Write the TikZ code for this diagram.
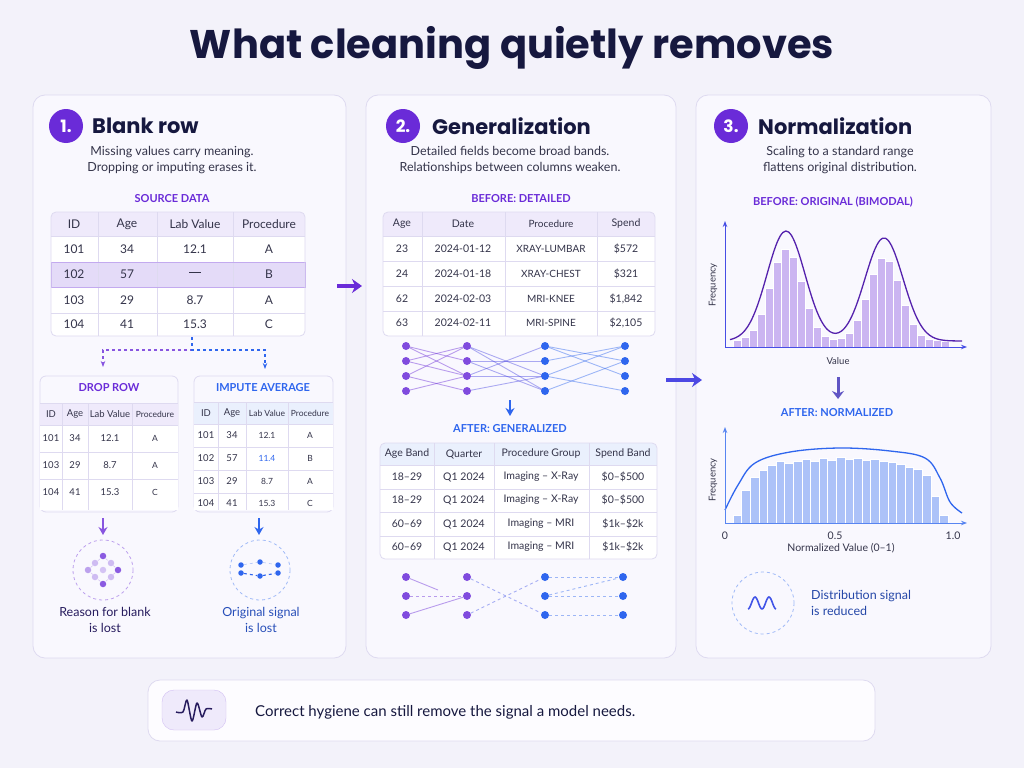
\documentclass[tikz,border=0pt]{standalone}
\usepackage{fontspec}
\setmainfont{Lato}
\newfontfamily\headfont{Poppins}
\usetikzlibrary{arrows.meta}
\definecolor{bg}{HTML}{F3F2FA}
\definecolor{panel}{HTML}{F9F8FE}
\definecolor{edge}{HTML}{DEDAF0}
\definecolor{navy}{HTML}{16183F}
\definecolor{ink}{HTML}{34344A}
\definecolor{purp}{HTML}{6A2BD8}
\definecolor{blu}{HTML}{2F66EE}
\definecolor{hdr}{HTML}{EFEAFB}
\definecolor{hdrb}{HTML}{EAF0FD}
\definecolor{hil}{HTML}{E4DBF8}
\newcommand\blankdash{\rule[0.3em]{12pt}{1.1pt}}
\tikzset{
  paper/.style={fill=panel,draw=edge,line width=0.8pt,rounded corners=12},
  tabframe/.style={draw=edge,line width=0.8pt,rounded corners=5},
  grid/.style={draw=edge,line width=0.6pt},
  cell/.style={inner sep=0pt,font=\fontsize{12}{14}\selectfont,text=ink},
  small/.style={inner sep=0pt,font=\fontsize{9.5}{11}\selectfont,text=ink},
  caption/.style={inner sep=0pt,font=\fontsize{11}{13}\selectfont\bfseries},
  numdot/.style={circle,fill=purp,minimum size=34pt,inner sep=0pt,text=white,font=\headfont\fontsize{17}{17}\selectfont\bfseries},
  heading/.style={anchor=west,inner sep=0pt,font=\headfont\fontsize{21}{24}\selectfont\bfseries,text=navy},
  blurb/.style={align=center,inner sep=0pt,font=\fontsize{12.5}{16}\selectfont,text=ink},
  pdot/.style={circle,fill=purp!85,inner sep=0pt,minimum size=8pt},
  bdot/.style={circle,fill=blu,inner sep=0pt,minimum size=8pt},
  wire/.style={line width=0.9pt,opacity=0.45},
  flow/.style={-{Stealth[length=8pt,width=9pt]},line width=2pt},
}
\begin{document}
\begin{tikzpicture}[x=1pt,y=-1pt]
\useasboundingbox[fill=bg] (0,0) rectangle (1024,768);
\node[inner sep=0pt,font=\headfont\fontsize{40}{44}\selectfont\bfseries,text=navy] (title) at (512,48) {What cleaning quietly removes};

%panels
\draw[paper] (33,95) rectangle (346,658);
\draw[paper] (366,95) rectangle (676,658);
\draw[paper] (696,95) rectangle (991,658);
\draw[paper,fill=white!60!panel] (148,680) rectangle (875,741);

%%%%% panel 1
\node[numdot] (n1) at (66,126) {1.};
\node[heading] (h1) at (92,126) {Blank row};
\node[blurb] (b1) at (172,160) {Missing values carry meaning.\\Dropping or imputing erases it.};
\node[caption,text=purp] (c1) at (172,199) {SOURCE DATA};
\begin{scope}
\clip[rounded corners=5] (51,212) rectangle (305,336);
\fill[hdr] (51,212) rectangle (305,236);
\fill[white] (51,236) rectangle (305,336);
\fill[hil] (51,262) rectangle (305,287);
\end{scope}
\foreach \x in {98,157,233} \draw[grid] (\x,212) -- (\x,336);
\foreach \y in {236,262,313} \draw[grid] (51,\y) -- (305,\y);
\draw[purp!40,line width=0.8pt] (51,262) rectangle (305,287);
\draw[tabframe] (51,212) rectangle (305,336);
\foreach \y/\a/\b/\c/\d [count=\r] in {224/ID/Age/Lab Value/Procedure,249/101/34/12.1/A,274/102/57/\blankdash/B,300/103/29/8.7/A,324/104/41/15.3/C}{
  \node[cell] (s\r a) at (74,\y) {\a};
  \node[cell] (s\r b) at (127,\y) {\b};
  \node[cell] (s\r c) at (195,\y) {\c};
  \node[cell] (s\r d) at (269,\y) {\d};
}
\coordinate (split) at (192,337);
\draw[purp!80,dashed,line width=1.2pt,-{Stealth[length=6pt]}] (split) |- (103,350) -- (103,367);
\draw[blu,dashed,line width=1.2pt,-{Stealth[length=6pt]}] (split) |- (265,350) -- (265,369);

%drop row
\draw[paper,rounded corners=6,fill=panel] (40,376) rectangle (178,512);
\node[caption,text=purp] (c1a) at (109,388) {DROP ROW};
\fill[white] (40,425) rectangle (178,510);
\fill[hdr] (40,403) rectangle (178,425);
\foreach \x in {62,88,132} \draw[grid] (\x,403) -- (\x,510);
\foreach \y in {403,425,452,479} \draw[grid] (40,\y) -- (178,\y);
\foreach \y/\a/\b/\c/\d [count=\r] in {414/ID/Age/Lab Value/Procedure,438/101/34/12.1/A,465/103/29/8.7/A,492/104/41/15.3/C}{
  \node[small] (d\r a) at (51,\y) {\a};
  \node[small] (d\r b) at (75,\y) {\b};
  \node[small] (d\r c) at (110,\y) {\c};
  \node[small,font=\fontsize{8.5}{10}\selectfont] (d\r d) at (155,\y) {\d};
}
%impute
\draw[paper,rounded corners=6,fill=panel] (194,376) rectangle (333,512);
\node[caption,text=blu] (c1b) at (263,388) {IMPUTE AVERAGE};
\fill[white] (194,424) rectangle (333,510);
\fill[hdrb] (194,402) rectangle (333,424);
\foreach \x in {218,246,288} \draw[grid] (\x,402) -- (\x,510);
\foreach \y in {402,424,447,470,493} \draw[grid] (194,\y) -- (333,\y);
\foreach \y/\a/\b/\c/\d [count=\r] in {413/ID/Age/Lab Value/Procedure,435/101/34/12.1/A,458/102/57/\textcolor{blu}{11.4}/B,481/103/29/8.7/A,503/104/41/15.3/C}{
  \node[small] (i\r a) at (206,\y) {\a};
  \node[small] (i\r b) at (232,\y) {\b};
  \node[small,font=\fontsize{8.5}{10}\selectfont] (i\r c) at (267,\y) {\c};
  \node[small,font=\fontsize{8.5}{10}\selectfont] (i\r d) at (310,\y) {\d};
}
\draw[flow,purp!80,line width=1.5pt] (103,518) -- (103,535);
\draw[flow,blu,line width=1.5pt] (259,518) -- (259,535);
\draw[purp!45,dashed,line width=0.8pt] (103,570) circle (30);
\draw[blu!45,dashed,line width=0.8pt] (260,570) circle (30);
%scattered reason icon
\foreach \x/\y/\o [count=\k] in {103/556/0.9,118/570/0.9,103/584/0.9,88/570/0.5,95/563/0.35,111/563/0.35,95/577/0.35,111/577/0.35,103/570/0.3}
  \node[pdot,opacity=\o,minimum size=6.5pt] (r\k) at (\x,\y) {};
\draw[purp!30,densely dashed] (r1) -- (r2) -- (r3) -- (r4) -- (r1);
%flattened signal icon
\foreach \x/\y [count=\k] in {241/565,260/562,278/565,241/573,260/576,278/573}
  \node[bdot,minimum size=5.5pt] (o\k) at (\x,\y) {};
\draw[blu!50,dashed] (o1) -- (o2) -- (o3);
\draw[blu,dashed,line width=1.1pt] (o4) -- (o5) -- (o6);
\node[blurb,text=navy!80!purp] (l1) at (105,620) {Reason for blank\\is lost};
\node[blurb,text=blu!70!navy] (l2) at (261,620) {Original signal\\is lost};

%%%%% panel 2
\node[numdot] (n2) at (403,126) {2.};
\node[heading] (h2) at (432,126) {Generalization};
\node[blurb] (b2) at (510,160) {Detailed fields become broad bands.\\Relationships between columns weaken.};
\node[caption,text=purp] (c2) at (521,199) {BEFORE: DETAILED};
\begin{scope}
\clip[rounded corners=5] (383,212) rectangle (655,336);
\fill[hdr] (383,212) rectangle (655,236);
\fill[white] (383,236) rectangle (655,336);
\end{scope}
\foreach \x in {422,505,597} \draw[grid] (\x,212) -- (\x,336);
\foreach \y in {236,261,286,311} \draw[grid] (383,\y) -- (655,\y);
\draw[tabframe] (383,212) rectangle (655,336);
\foreach \y/\a/\b/\c/\d [count=\r] in {224/Age/Date/Procedure/Spend,249/23/2024-01-12/XRAY-LUMBAR/\$572,274/24/2024-01-18/XRAY-CHEST/\$321,299/62/2024-02-03/MRI-KNEE/{\$1,842},323/63/2024-02-11/MRI-SPINE/{\$2,105}}{
  \node[cell,font=\fontsize{10.5}{12}\selectfont] (g\r a) at (402,\y) {\a};
  \node[cell,font=\fontsize{10.5}{12}\selectfont] (g\r b) at (463,\y) {\b};
  \node[cell,font=\fontsize{10}{12}\selectfont] (g\r c) at (551,\y) {\c};
  \node[cell,font=\fontsize{10.5}{12}\selectfont] (g\r d) at (626,\y) {\d};
}
%dense links
\foreach \c/\x in {1/406,2/467,3/545,4/625}
  \foreach \r/\y in {1/346,2/361,3/376,4/391}
    \coordinate (w\c\r) at (\x,\y);
\foreach \a/\b in {1/2,2/1,3/1,3/4,4/3,2/3,1/3}
  \draw[wire,purp] (w1\a) -- (w2\b);
\foreach \a/\b in {1/3,1/4,2/2,3/1,4/3,2/4,3/3}
  \draw[wire,purp!50!blu] (w2\a) -- (w3\b);
\foreach \a/\b in {1/3,2/1,3/4,4/2,1/2,3/1}
  \draw[wire,blu] (w3\a) -- (w4\b);
\foreach \r in {1,...,4}{
  \node[pdot] (p1\r) at (w1\r) {};
  \node[pdot] (p2\r) at (w2\r) {};
  \node[bdot] (p3\r) at (w3\r) {};
  \node[bdot] (p4\r) at (w4\r) {};
}
\draw[flow,blu,line width=1.5pt] (510,400) -- (510,416);
\node[caption,text=blu] (c2b) at (510,429) {AFTER: GENERALIZED};
\begin{scope}
\clip[rounded corners=5] (380,443) rectangle (657,559);
\fill[hdrb] (380,443) rectangle (657,465);
\fill[white] (380,465) rectangle (657,559);
\end{scope}
\foreach \x in {434,494,589} \draw[grid] (\x,443) -- (\x,559);
\foreach \y in {465,489,512,536} \draw[grid] (380,\y) -- (657,\y);
\draw[tabframe] (380,443) rectangle (657,559);
\foreach \y/\a/\b/\c/\d [count=\r] in {454/Age Band/Quarter/Procedure Group/Spend Band,477/18--29/Q1 2024/Imaging -- X-Ray/\$0--\$500,500/18--29/Q1 2024/Imaging -- X-Ray/\$0--\$500,524/60--69/Q1 2024/Imaging -- MRI/\$1k--\$2k,547/60--69/Q1 2024/Imaging -- MRI/\$1k--\$2k}{
  \node[cell,font=\fontsize{10.5}{12}\selectfont] (a\r a) at (407,\y) {\a};
  \node[cell,font=\fontsize{10.5}{12}\selectfont] (a\r b) at (464,\y) {\b};
  \node[cell,font=\fontsize{10.5}{12}\selectfont] (a\r c) at (541,\y) {\c};
  \node[cell,font=\fontsize{10.5}{12}\selectfont] (a\r d) at (623,\y) {\d};
}
\foreach \r in {1,2,3}{
  \node[pdot] (q1\r) at (406,558+19*\r) {};
  \node[pdot] (q2\r) at (467,558+19*\r) {};
  \node[bdot] (q3\r) at (545,558+19*\r) {};
  \node[bdot] (q4\r) at (623,558+19*\r) {};
}
\draw[wire,purp] (q11) -- (438,590);
\draw[wire,purp,dashed] (q12) -- (q22);
\draw[wire,purp] (q13) -- (q22);
\draw[wire,blu!70!purp,dashed] (q21) -- (q33);
\draw[wire,blu!70!purp,dashed] (q23) -- (q31);
\draw[wire,blu,dashed] (q31) -- (q41);
\draw[wire,blu,dashed] (q32) -- (q42);
\draw[wire,blu,dashed] (q33) -- (q43);
\draw[wire,blu,dashed] (q32) -- (q41);

%between panels
\draw[flow,purp,line width=3.5pt,-{Stealth[length=10pt,width=14pt]}] (337,286) -- (362,286);
\draw[flow,purp!50!blu,line width=3.5pt,-{Stealth[length=10pt,width=14pt]}] (666,380) -- (702,380);

%%%%% panel 3
\node[numdot] (n3) at (731,126) {3.};
\node[heading] (h3) at (758,126) {Normalization};
\node[blurb] (b3) at (840,160) {Scaling to a standard range\\flattens original distribution.};
\node[caption,text=purp] (c3) at (833,202) {BEFORE: ORIGINAL (BIMODAL)};
\foreach \i in {0,...,26}{
  \pgfmathsetmacro\cx{733+8*\i+4}
  \pgfmathsetmacro\hh{6+92*exp(-((\cx-786)/16)^2/2)+84*exp(-((\cx-884)/16)^2/2)}
  \fill[purp!35,draw=white,line width=0.6pt] (733+8*\i,347) rectangle ++(8,-\hh);
}
\draw[purp!80!black,line width=1.3pt,smooth,domain=730:962,samples=80]
  plot (\x,{347-(6+110*exp(-((\x-786)/19)^2/2)+103*exp(-((\x-884)/19)^2/2))});
\draw[blu!60!purp,line width=1pt,-{Stealth[length=6pt]}] (725,347) -- (725,221);
\draw[blu!60!purp,line width=1pt,-{Stealth[length=6pt]}] (725,347) -- (967,347);
\node[small,rotate=90] (fy1) at (713,285) {Frequency};
\node[small] (vx1) at (838,361) {Value};
\draw[flow,purp!60!blu!70!gray,line width=3pt,-{Stealth[length=8pt,width=12pt]}] (838,377) -- (838,399);
\node[caption,text=blu] (c3b) at (837,413) {AFTER: NORMALIZED};
\foreach \h [count=\i from 0] in {8,33,46,53,58,62,60,62,64,62,65,63,66,64,65,63,64,62,61,59,56,54,48,27,8}
  \fill[blu!40,draw=white,line width=0.6pt] (733+8.6*\i,523) rectangle ++(8.6,-\h);
\draw[blu,line width=1.3pt] plot[smooth,tension=0.6] coordinates {(725,510) (738,485) (755,463) (790,452) (840,448) (890,451) (925,458) (940,478) (950,502) (962,513)};
\draw[blu!80,line width=1pt,-{Stealth[length=6pt]}] (725,523) -- (725,427);
\draw[blu!80,line width=1pt,-{Stealth[length=6pt]}] (725,523) -- (967,523);
\node[small,rotate=90] (fy2) at (713,480) {Frequency};
\node[small,font=\fontsize{10.5}{12}\selectfont] (t0) at (725,536) {0};
\node[small,font=\fontsize{10.5}{12}\selectfont] (t5) at (835,536) {0.5};
\node[small,font=\fontsize{10.5}{12}\selectfont] (t1) at (953,536) {1.0};
\node[small,font=\fontsize{10.5}{12}\selectfont] (vx2) at (841,548) {Normalized Value (0--1)};
\draw[blu!45,dashed,line width=0.8pt] (763,603) circle (31);
\draw[blu!70!purp,line width=1.6pt,domain=0:2,samples=40,smooth] plot ({748+14*\x},{603-6*sin(\x*360-90)});
\node[blurb,anchor=west,align=left,text=blu!60!navy] (l3) at (811,603) {Distribution signal\\is reduced};

%%%%% bottom bar
\draw[fill=hdr,draw=purp!30,rounded corners=12] (162,690) rectangle (226,730);
\draw[navy!80!purp,line width=1.5pt,line join=round] plot[smooth,tension=0.5] coordinates {(176,712) (183,712) (187,700) (192,721) (197,703) (202,717) (206,709) (212,709)};
\node[inner sep=0pt,anchor=west,font=\fontsize{15}{18}\selectfont,text=navy] (msg) at (255,712) {Correct hygiene can still remove the signal a model needs.};
\end{tikzpicture}
\end{document}
